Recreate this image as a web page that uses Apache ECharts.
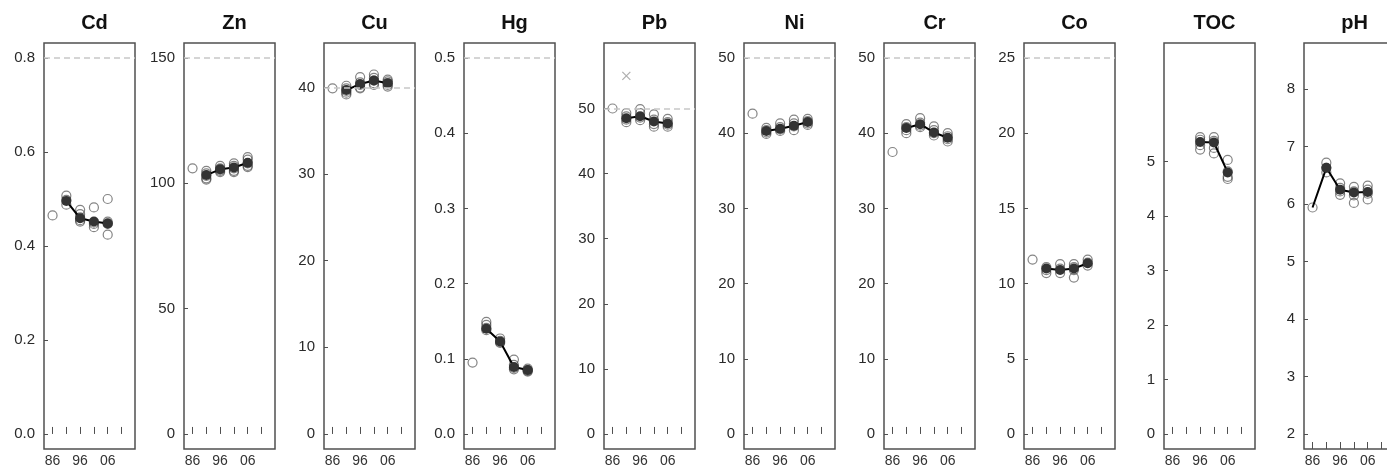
<!DOCTYPE html>
<html>
<head>
<meta charset="utf-8">
<script src="https://cdn.jsdelivr.net/npm/echarts@6/dist/echarts.min.js"></script>
<style>
html,body{margin:0;padding:0;background:#fff;overflow:hidden}
#chart{width:1400px;height:468px}
</style>
</head>
<body>
<div id="chart"></div>
<script>
var elements = ['Cd', 'Zn', 'Cu', 'Hg', 'Pb', 'Ni', 'Cr', 'Co', 'TOC', 'pH'];
var years = [1986, 1991, 1996, 2001, 2006];
var yearTicks = [1986, 1991, 1996, 2001, 2006, 2011];
var yearLabels = [1986, 1996, 2006];

// dashed guide value of each panel (null = none)
var limits = [0.8, 150, 40, 0.5, 50, 50, 50, 25, null, null];
// y limits, padded 4% on each side like R does
var yLimits = [[0, 0.8], [0, 150], [0, 43.4], [0, 0.5], [0, 57.75], [0, 50], [0, 50], [0, 25], [0, 6.9], [2, 8.54]];
var yTicks = [
    [0, 0.2, 0.4, 0.6, 0.8],
    [0, 50, 100, 150],
    [0, 10, 20, 30, 40],
    [0, 0.1, 0.2, 0.3, 0.4, 0.5],
    [0, 10, 20, 30, 40, 50],
    [0, 10, 20, 30, 40, 50],
    [0, 10, 20, 30, 40, 50],
    [0, 5, 10, 15, 20, 25],
    [0, 1, 2, 3, 4, 5],
    [2, 3, 4, 5, 6, 7, 8]
];
var yDigits = [1, 0, 0, 1, 0, 0, 0, 0, 0, 0];

// samples for each year (same order as years), and yearly means
var cdObs = [[0.465], [0.507, 0.498, 0.488], [0.477, 0.468, 0.461, 0.455, 0.452], [0.482, 0.450, 0.447, 0.440], [0.500, 0.452, 0.447, 0.448, 0.424]];
var cdMean = [null, 0.496, 0.459, 0.452, 0.448];
var znObs = [[106], [105, 104, 103, 102, 101.5], [107, 106, 105.5, 105, 104.5], [108, 107, 106, 105, 104.5], [110.5, 109.5, 108, 107, 106.5]];
var znMean = [null, 103.3, 105.6, 106.3, 108.2];
var cuObs = [[39.9], [40.2, 39.9, 39.6, 39.4, 39.2], [41.2, 40.6, 40.3, 40.0, 39.9], [41.5, 41.1, 40.8, 40.5, 40.3], [40.9, 40.7, 40.5, 40.3, 40.1]];
var cuMean = [null, 39.7, 40.4, 40.8, 40.5];
var hgObs = [[0.095], [0.149, 0.145, 0.141, 0.138], [0.127, 0.124, 0.122, 0.121], [0.099, 0.092, 0.088, 0.086], [0.087, 0.085, 0.083, 0.084]];
var hgMean = [null, 0.140, 0.123, 0.089, 0.085];
var pbObs = [[50.0], [49.3, 48.8, 48.3, 47.9], [49.9, 49.3, 48.6, 48.2], [49.1, 48.3, 47.6, 47.2], [48.4, 47.9, 47.5, 47.2]];
var pbMean = [null, 48.5, 48.8, 48.0, 47.7];
var niObs = [[42.6], [40.7, 40.4, 40.1, 39.9], [41.3, 40.8, 40.5, 40.3], [41.8, 41.3, 40.9, 40.4], [41.9, 41.6, 41.3, 41.1]];
var niMean = [null, 40.3, 40.6, 41.0, 41.5];
var crObs = [[37.5], [41.2, 40.8, 40.4, 40.0], [42.0, 41.4, 41.0, 40.8], [40.9, 40.4, 40.0, 39.7], [40.0, 39.6, 39.2, 38.9]];
var crMean = [null, 40.7, 41.2, 40.1, 39.4];
var coObs = [[11.6], [11.1, 10.9, 10.7], [11.3, 11.0, 10.7], [11.3, 11.1, 10.9, 10.4], [11.6, 11.4, 11.2]];
var coMean = [null, 11.0, 10.9, 11.0, 11.35];
var tocObs = [[], [], [5.45, 5.40, 5.30, 5.22], [5.45, 5.38, 5.25, 5.15], [5.03, 4.82, 4.72, 4.68]];
var tocMean = [null, null, 5.36, 5.35, 4.80];
var phObs = [[5.94], [6.72, 6.63, 6.55], [6.36, 6.28, 6.22, 6.16], [6.30, 6.22, 6.15, 6.02], [6.32, 6.25, 6.18, 6.08]];
var phMean = [5.94, 6.63, 6.25, 6.20, 6.21];

// outlier drawn as a cross in the Pb panel
var pbOutYears = [1991];
var pbOutValues = [55];

var allObs = [cdObs, znObs, cuObs, hgObs, pbObs, niObs, crObs, coObs, tocObs, phObs];
var allMean = [cdMean, znMean, cuMean, hgMean, pbMean, niMean, crMean, coMean, tocMean, phMean];

var font = "'Liberation Sans', Arial, sans-serif";
var boxColor = '#505050';

var chart = echarts.init(document.getElementById('chart'));

var grids = [], xAxes = [], yAxes = [], titles = [], series = [];

elements.forEach(function (name, i) {
    var left = 44 + 140 * i;
    var width = 91;
    grids.push({
        left: left, top: 43, width: width, height: 408,
        show: true, borderColor: boxColor, borderWidth: 1.5, backgroundColor: 'transparent'
    });
    titles.push({
        text: name,
        left: left + width / 2, top: 8, textAlign: 'center',
        textStyle: { fontFamily: font, fontSize: 20, fontWeight: 'bold', color: '#111' }
    });

    xAxes.push({
        gridIndex: i, type: 'value', min: 1982.9, max: 2015.9,
        axisLine: { show: false },
        splitLine: { show: false },
        axisTick: { show: true, inside: true, length: 7, customValues: yearTicks,
            lineStyle: { color: boxColor, width: 1 } },
        axisLabel: { customValues: yearLabels, margin: 5, fontFamily: font, fontSize: 14, color: '#333',
            formatter: function (v) { return String(Math.round(v)).slice(2); } }
    });

    var lo = yLimits[i][0], hi = yLimits[i][1], pad = (hi - lo) * 0.04;
    var digits = yDigits[i];
    yAxes.push({
        gridIndex: i, type: 'value', min: lo - pad, max: hi + pad,
        axisLine: { show: false },
        splitLine: { show: false },
        axisTick: { show: true, inside: true, length: 4, customValues: yTicks[i],
            lineStyle: { color: boxColor, width: 1 } },
        axisLabel: { customValues: yTicks[i], margin: 9, fontFamily: font, fontSize: 15, color: '#2a2a2a',
            formatter: function (v) { return v.toFixed(digits); } }
    });

    var obsData = [];
    allObs[i].forEach(function (vals, k) {
        vals.forEach(function (v) { obsData.push([years[k], v]); });
    });
    var obsSeries = {
        type: 'scatter', xAxisIndex: i, yAxisIndex: i, data: obsData,
        symbol: 'circle', symbolSize: 9, z: 3,
        itemStyle: { color: 'rgba(255,255,255,0)', borderColor: 'rgba(50,50,50,0.75)', borderWidth: 1.2 }
    };
    if (limits[i] !== null) {
        obsSeries.markLine = {
            silent: true, symbol: ['none', 'none'], label: { show: false },
            lineStyle: { color: '#c8c8c8', width: 1.5, type: [6, 4] },
            data: [{ yAxis: limits[i] }]
        };
    }
    series.push(obsSeries);

    var meanData = [];
    allMean[i].forEach(function (m, k) {
        if (m === null) return;
        meanData.push({ value: [years[k], m], symbolSize: allObs[i][k].length > 1 ? 10 : 0 });
    });
    series.push({
        type: 'line', xAxisIndex: i, yAxisIndex: i, data: meanData,
        symbol: 'circle', z: 4,
        itemStyle: { color: '#333' },
        lineStyle: { color: '#000', width: 2 }
    });
});

// cross for the Pb outlier
series.push({
    type: 'scatter', xAxisIndex: 4, yAxisIndex: 4,
    data: pbOutYears.map(function (y, k) { return [y, pbOutValues[k]]; }),
    symbol: 'path://M0,0L10,10M10,0L0,10', symbolSize: 8, z: 3,
    itemStyle: { color: 'none', borderColor: '#9a9a9a', borderWidth: 1.2 }
});

chart.setOption({
    animation: false,
    backgroundColor: '#fff',
    title: titles,
    grid: grids,
    xAxis: xAxes,
    yAxis: yAxes,
    series: series
});
</script>
</body>
</html>
